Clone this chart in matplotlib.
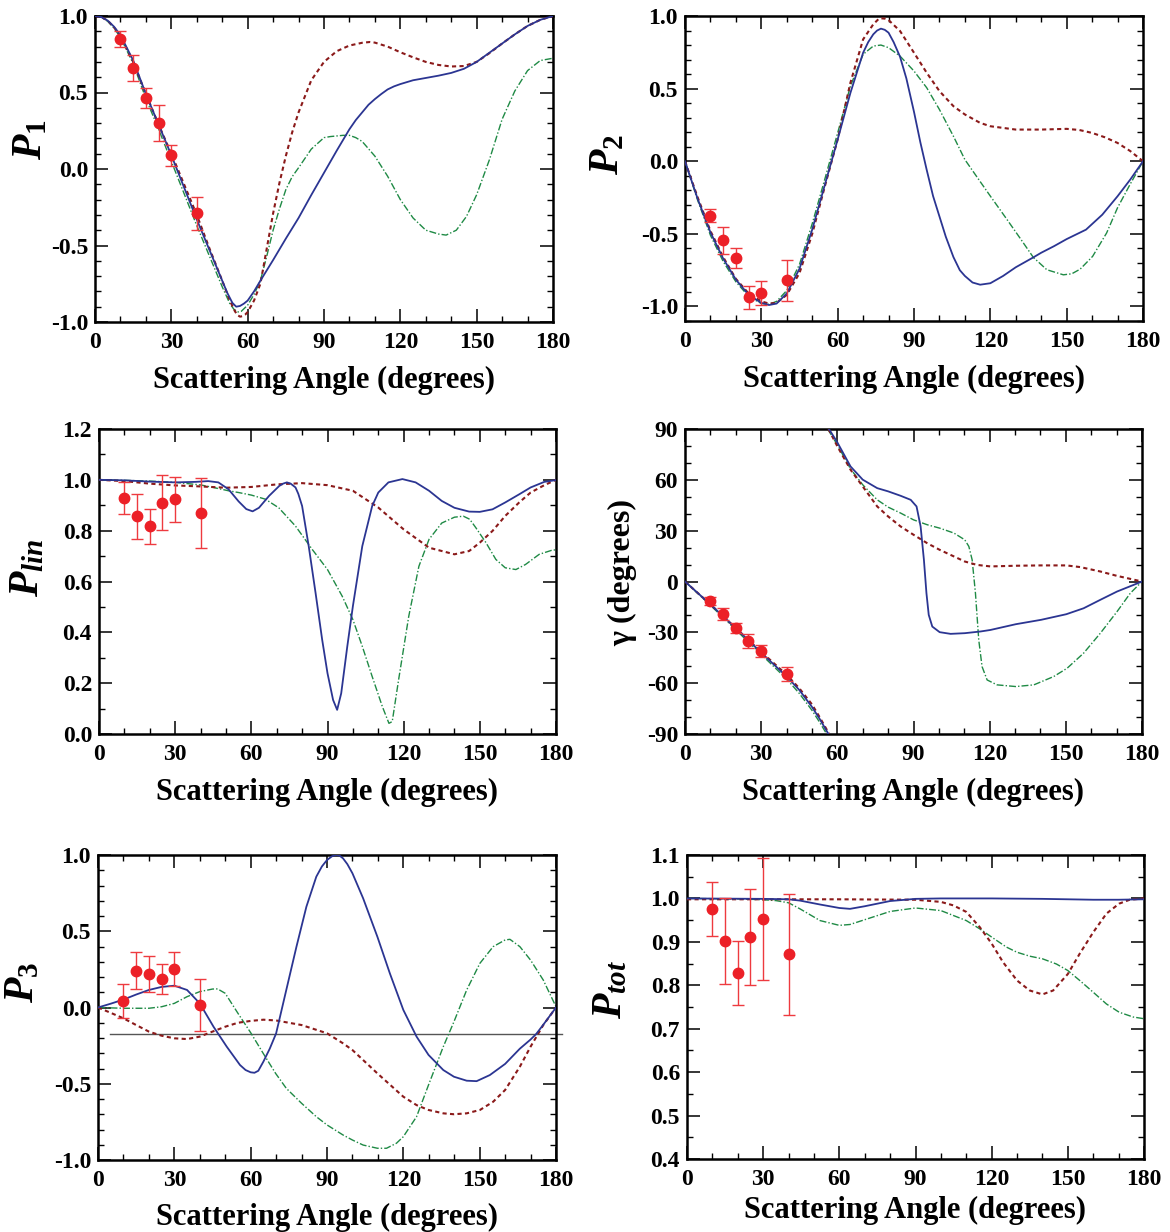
import matplotlib
matplotlib.use("Agg")
import matplotlib.pyplot as plt
from matplotlib.ticker import MultipleLocator, FormatStrFormatter

plt.rcParams.update({
    "font.family": ["Liberation Serif", "DejaVu Serif"],
    "font.weight": "bold",
    "axes.unicode_minus": False,
    "mathtext.fontset": "custom",
    "mathtext.rm": "Liberation Serif:bold",
    "mathtext.it": "Liberation Serif:italic:bold",
    "mathtext.bf": "Liberation Serif:bold",
})

# ---------------- measured points (common to all panels) ----------------
meas_angle = [10, 15, 20, 25, 30, 40]

p1_meas = [0.85, 0.66, 0.466, 0.298, 0.09, -0.29]
p1_err = [0.052, 0.085, 0.065, 0.118, 0.07, 0.11]
p2_meas = [-0.375, -0.545, -0.667, -0.938, -0.908, -0.82]
p2_err = [0.045, 0.095, 0.07, 0.08, 0.083, 0.14]
plin_meas = [0.928, 0.856, 0.817, 0.91, 0.924, 0.869]
plin_err = [0.062, 0.087, 0.069, 0.108, 0.088, 0.139]
gam_meas = [-11.4, -19.3, -27.6, -35.0, -41.0, -54.5]
gam_err = [2.5, 3.5, 3.0, 4.0, 3.5, 4.0]
p3_meas = [0.043, 0.242, 0.22, 0.185, 0.252, 0.019]
p3_err = [0.11, 0.12, 0.119, 0.098, 0.109, 0.171]
ptot_meas = [0.976, 0.902, 0.828, 0.911, 0.952, 0.871]
ptot_err = [0.062, 0.099, 0.073, 0.11, 0.14, 0.14]

# ---------------- model curves ----------------
# P1
p1_blue_x = [0, 2.5, 5, 7.5, 10, 15, 20, 25, 30, 35, 40, 45, 50, 52, 54, 55.5, 57, 58.5, 60, 62.5,
             65, 70, 75, 80, 85, 90, 95, 100, 102.5, 105, 107.5, 110, 112.5, 115, 117.5, 120, 125,
             130, 135, 140, 145, 150, 155, 160, 165, 170, 175, 180]
p1_blue_y = [1.0, 0.993, 0.97, 0.93, 0.875, 0.71, 0.49, 0.29, 0.09, -0.12, -0.33, -0.53, -0.73,
             -0.81, -0.875, -0.9, -0.895, -0.88, -0.86, -0.80, -0.73, -0.595, -0.455, -0.32,
             -0.17, -0.025, 0.12, 0.26, 0.32, 0.37, 0.42, 0.457, 0.49, 0.52, 0.54, 0.555, 0.58,
             0.595, 0.61, 0.628, 0.655, 0.70, 0.76, 0.82, 0.88, 0.935, 0.975, 1.0]
p1_red_x = [0, 2.5, 5, 7.5, 10, 15, 20, 25, 30, 35, 40, 45, 50, 53, 55, 56, 57, 58, 59, 60, 62.5,
            65, 67.5, 70, 72.5, 75, 77.5, 80, 85, 90, 95, 100, 105, 108, 110, 115, 120, 125, 130,
            135, 140, 145, 150, 155, 160, 165, 170, 175, 180]
p1_red_y = [1.0, 0.993, 0.97, 0.925, 0.87, 0.70, 0.49, 0.29, 0.10, -0.10, -0.30, -0.52, -0.73,
            -0.86, -0.93, -0.955, -0.965, -0.962, -0.952, -0.935, -0.86, -0.75, -0.52, -0.29,
            -0.09, 0.085, 0.24, 0.37, 0.58, 0.70, 0.77, 0.807, 0.825, 0.83, 0.826, 0.80, 0.763,
            0.73, 0.70, 0.68, 0.67, 0.673, 0.70, 0.757, 0.82, 0.88, 0.935, 0.975, 1.0]
p1_green_x = [0, 2.5, 5, 7.5, 10, 15, 20, 25, 30, 35, 40, 45, 50, 53, 54.5, 56, 57.5, 60, 62.5, 65,
              67.5, 70, 72.5, 75, 77.5, 80, 85, 90, 92.5, 97.5, 100, 102.5, 105, 110, 115, 120,
              125, 130, 135, 138, 142, 146, 150, 155, 160, 165, 170, 175, 180]
p1_green_y = [1.0, 0.992, 0.965, 0.92, 0.86, 0.69, 0.46, 0.26, 0.05, -0.16, -0.37, -0.57, -0.77,
              -0.88, -0.915, -0.935, -0.93, -0.89, -0.82, -0.73, -0.57, -0.40, -0.26, -0.135,
              -0.05, 0.008, 0.13, 0.205, 0.212, 0.22, 0.22, 0.205, 0.18, 0.084, -0.047, -0.20,
              -0.32, -0.40, -0.425, -0.432, -0.40, -0.31, -0.168, 0.06, 0.325, 0.51, 0.643, 0.709,
              0.724]

# P2
p2_blue_x = [0, 5, 10, 15, 20, 25, 30, 33, 36, 40, 45, 50, 55, 60, 65, 70, 72, 74, 75.5, 77, 78.5,
             80, 82, 84.5, 87, 90, 92.5, 95, 97.5, 100, 102.5, 105.5, 108, 110, 113, 116, 120, 125,
             130, 136.9, 140, 145, 150, 157.6, 164, 170, 175, 180]
p2_blue_y = [0.0, -0.26, -0.49, -0.67, -0.815, -0.92, -0.975, -0.99, -0.98, -0.91, -0.74, -0.47,
             -0.16, 0.15, 0.47, 0.747, 0.82, 0.874, 0.90, 0.913, 0.905, 0.885, 0.82, 0.72, 0.57,
             0.34, 0.13, -0.06, -0.24, -0.38, -0.52, -0.66, -0.75, -0.79, -0.835, -0.85, -0.84,
             -0.79, -0.73, -0.662, -0.63, -0.585, -0.536, -0.471, -0.368, -0.241, -0.126, 0.0]
p2_red_x = [0, 5, 10, 15, 20, 25, 30, 33, 36, 40, 45, 50, 55, 60, 65, 70, 74, 76, 77, 78.5, 80,
            84.5, 90, 95, 100, 105.5, 110, 116, 120, 130, 140, 150, 155, 160, 165, 170, 175, 180]
p2_red_y = [0.0, -0.25, -0.48, -0.66, -0.81, -0.91, -0.965, -0.98, -0.975, -0.92, -0.77, -0.50,
            -0.17, 0.15, 0.54, 0.839, 0.943, 0.978, 0.984, 0.982, 0.972, 0.897, 0.747, 0.609,
            0.483, 0.379, 0.322, 0.264, 0.241, 0.218, 0.218, 0.223, 0.215, 0.195, 0.165, 0.126,
            0.07, 0.0]
p2_green_x = [0, 5, 10, 15, 20, 25, 30, 33, 36, 40, 45, 50, 55, 60, 65, 70, 74, 77, 80, 84.5, 90,
              95, 100, 105.5, 110, 116, 120, 126.5, 131.7, 136.9, 142.2, 148.7, 152, 155.3, 160.2,
              165.7, 170, 174.9, 180]
p2_green_y = [0.0, -0.27, -0.51, -0.69, -0.83, -0.93, -0.98, -0.985, -0.965, -0.89, -0.71, -0.43,
              -0.12, 0.195, 0.517, 0.736, 0.793, 0.80, 0.782, 0.724, 0.621, 0.506, 0.356, 0.172,
              0.011, -0.14, -0.24, -0.40, -0.53, -0.662, -0.747, -0.782, -0.775, -0.743, -0.655,
              -0.494, -0.32, -0.16, 0.0]

# P_lin
plin_blue_x = [0, 10, 20, 30, 38, 43, 47, 51, 55, 58, 60.5, 63, 67, 71, 72.5, 74, 75.5, 77.4, 78.5,
               80, 82.6, 85.3, 87.9, 90, 92.2, 93.8, 95.4, 97.8, 100, 103.7, 107.6, 110, 114,
               119.5, 124.7, 130, 135, 140, 145.8, 150, 155, 160, 165.5, 170, 175.4, 180]
plin_blue_y = [1.0, 0.998, 0.993, 0.99, 0.992, 0.995, 0.99, 0.963, 0.915, 0.885, 0.876, 0.89,
               0.937, 0.976, 0.985, 0.99, 0.985, 0.97, 0.945, 0.897, 0.739, 0.555, 0.371, 0.239,
               0.134, 0.095, 0.16, 0.345, 0.503, 0.739, 0.897, 0.95, 0.99, 1.003, 0.99, 0.957,
               0.917, 0.89, 0.875, 0.874, 0.884, 0.911, 0.943, 0.97, 0.992, 0.999]
plin_red_x = [0, 10, 20, 30, 40, 50, 60, 70, 80, 90, 100, 110, 120, 130, 140, 145.8, 150, 155, 160,
              165.5, 170, 175.4, 180]
plin_red_y = [1.0, 0.995, 0.985, 0.978, 0.974, 0.969, 0.972, 0.982, 0.987, 0.979, 0.957, 0.891,
              0.805, 0.733, 0.707, 0.72, 0.753, 0.799, 0.858, 0.911, 0.95, 0.979, 1.0]
plin_green_x = [0, 10, 20, 30, 40, 45, 51, 55, 60, 65.5, 70.8, 77.4, 84, 90, 95.8, 100, 103.7, 107.6,
                111.6, 114.2, 115.5, 118, 122, 126, 130, 135, 140, 143.5, 146, 148.4, 152.4, 156.3,
                160, 164.2, 168, 173.4, 178.7, 180]
plin_green_y = [1.0, 0.998, 0.995, 0.99, 0.98, 0.97, 0.957, 0.95, 0.94, 0.924, 0.89, 0.818, 0.726,
                0.647, 0.542, 0.45, 0.345, 0.226, 0.108, 0.042, 0.049, 0.213, 0.463, 0.66, 0.766,
                0.83, 0.853, 0.857, 0.845, 0.812, 0.753, 0.687, 0.654, 0.647, 0.667, 0.707, 0.724,
                0.724]

# gamma: branch below the wrap-around and branch after it
gam_blue_lo_x = [0, 10, 20, 30, 40, 45, 50, 53, 56.5]
gam_blue_lo_y = [0, -13.5, -27.5, -42, -56, -64, -74, -81, -90]
gam_red_lo_x = [0, 10, 20, 30, 40, 45, 50, 53, 56.8]
gam_red_lo_y = [0, -13.5, -27.5, -41.5, -55, -63, -72.5, -80, -90]
gam_green_lo_x = [0, 10, 20, 30, 40, 45, 50, 53, 55.8]
gam_green_lo_y = [0, -14, -28.5, -43, -57.5, -66, -76, -83, -90]

gam_blue_hi_x = [56.7, 60, 65.2, 70, 75.7, 80, 84.9, 88.9, 91.2, 92.8, 94.1, 95.1, 96, 97.4, 100.3,
                 104.6, 110.2, 116.4, 120.3, 130.3, 140.3, 150.2, 157, 163.6, 170.2, 176.7, 180]
gam_blue_hi_y = [90, 82.1, 67.9, 60.1, 55.1, 53.2, 50.6, 48.2, 44.3, 32.5, 12.8, -6.9, -19.7, -26.6,
                 -29.9, -30.9, -30.5, -29.5, -28.6, -25.2, -22.6, -19.3, -15.8, -10.8, -5.9, -2.0, 0]
gam_red_hi_x = [56.5, 60, 65.2, 70, 75.7, 80, 84.9, 90, 95.4, 100.3, 105.9, 110.2, 115, 120.3, 130.3,
                140.3, 150.2, 155.7, 163.6, 170.2, 180]
gam_red_hi_y = [90, 79.8, 66, 56.1, 44.3, 38.4, 32.5, 27.6, 22.6, 18.7, 14.8, 11.8, 9.8, 8.9, 9.3,
                9.5, 9.5, 8.5, 5.9, 3.3, 0]
gam_green_hi_x = [56.2, 60, 65.2, 70, 75.7, 80, 84.9, 90, 95.4, 100.3, 105.9, 110.2, 111.8, 113.1,
                  114.4, 115.7, 117, 119, 122.9, 130.3, 137.4, 145.2, 150.5, 157, 163.6, 170.2,
                  175.4, 180]
gam_green_hi_y = [90, 80.7, 66.4, 57.1, 48.2, 43.9, 40.4, 36.4, 33.5, 31.5, 28.6, 24.6, 20.7, 12.8,
                  -6.9, -34.5, -50.2, -58.1, -61, -62, -61, -56.1, -51.2, -42.3, -30.5, -17.7,
                  -6.9, 0]

# P3
p3_blue_x = [0, 5, 10, 15, 20, 25, 30, 35, 40, 45.4, 50.6, 55.8, 58, 60, 61.5, 63, 65, 67.5, 70, 74,
             78, 81.9, 85.8, 88, 90, 92, 93.7, 95, 96.3, 98, 100, 104.2, 109.8, 114.7, 120, 125.2,
             129.9, 135.7, 139.9, 144.9, 148.8, 154, 160, 165.8, 170, 172.2, 175, 180]
p3_blue_y = [0.0, 0.025, 0.052, 0.085, 0.115, 0.135, 0.143, 0.115, 0.027, -0.126, -0.257, -0.377,
             -0.41, -0.425, -0.428, -0.415, -0.355, -0.27, -0.17, 0.115, 0.399, 0.661, 0.858,
             0.925, 0.967, 0.992, 1.0, 0.995, 0.978, 0.94, 0.88, 0.716, 0.464, 0.224, -0.016,
             -0.191, -0.311, -0.41, -0.454, -0.48, -0.483, -0.443, -0.37, -0.27, -0.21, -0.174,
             -0.113, 0.0]
p3_red_x = [0, 5, 10, 15, 20, 25, 30, 35, 40, 45, 50, 55, 60, 65, 70, 80, 90, 96.3, 100, 109.8, 120,
            125.2, 129.9, 135.7, 139.9, 144.9, 150.1, 155.3, 160, 165.8, 170, 175, 180]
p3_red_y = [0.0, -0.035, -0.071, -0.115, -0.158, -0.185, -0.202, -0.207, -0.191, -0.158, -0.126,
            -0.10, -0.088, -0.08, -0.085, -0.115, -0.169, -0.235, -0.279, -0.432, -0.585, -0.64,
            -0.672, -0.694, -0.70, -0.694, -0.672, -0.618, -0.541, -0.388, -0.257, -0.115, 0.0]
p3_green_x = [0, 10, 20, 25, 30, 35, 40, 45, 47, 50, 55, 60, 64.9, 69.8, 74, 80, 85.8, 90, 96.3, 100,
              104.2, 109.8, 113.4, 117.3, 120, 125.2, 129.9, 135.7, 139.9, 144.9, 150.1, 155.3,
              160, 161.9, 165.8, 170, 175, 180]
p3_green_y = [0.0, -0.005, -0.005, 0.005, 0.027, 0.071, 0.104, 0.121, 0.122, 0.093, -0.038, -0.165,
              -0.30, -0.432, -0.53, -0.628, -0.716, -0.77, -0.836, -0.869, -0.902, -0.923, -0.923,
              -0.89, -0.847, -0.716, -0.508, -0.257, -0.093, 0.115, 0.29, 0.399, 0.443, 0.447,
              0.399, 0.311, 0.18, 0.005]
p3_ref_level = -0.174
p3_ref_span = [4.7, 182.3]

# P_tot
ptot_blue_x = [0, 30, 40, 44.5, 52.4, 60, 64.2, 70, 80, 90, 100, 120, 140, 160, 170, 180]
ptot_blue_y = [1.0, 0.999, 0.998, 0.995, 0.986, 0.978, 0.976, 0.982, 0.994, 0.999, 1.0, 1.0, 0.999,
               0.997, 0.997, 0.998]
ptot_red_x = [0, 30, 60, 90, 100, 104.9, 110, 115.3, 120, 124.5, 130, 135, 140, 144.2, 150, 154.7,
              160, 165.2, 170.2, 174.4, 180]
ptot_red_y = [0.998, 0.998, 0.998, 0.997, 0.992, 0.984, 0.969, 0.934, 0.896, 0.853, 0.811, 0.788,
              0.779, 0.788, 0.826, 0.873, 0.922, 0.965, 0.988, 0.997, 1.0]
ptot_green_x = [0, 20, 30, 35, 40, 44.5, 52.4, 60, 64.2, 70, 80, 90, 100, 110, 115.3, 120, 125.8,
                130, 135, 140, 145.5, 150, 154.7, 160, 165.2, 170.2, 175.7, 180]
ptot_green_y = [1.0, 0.999, 0.997, 0.995, 0.99, 0.976, 0.949, 0.938, 0.94, 0.951, 0.97, 0.978,
                0.972, 0.949, 0.93, 0.911, 0.888, 0.876, 0.867, 0.861, 0.849, 0.834, 0.811, 0.784,
                0.757, 0.738, 0.727, 0.723]

x_ticks = [0, 30, 60, 90, 120, 150, 180]

# ---------------- styling ----------------
BLUE = "#2b3592"
DKRED = "#8b1a1a"
GREEN = "#1f8a45"
DATARED = "#ec2027"
ERRRED = "#ee3a3f"
GREEN_LS = (0, (5, 1.5, 1, 1.5))
RED_LS = (0, (2, 1.6))

W, H = 1170, 1232
fig = plt.figure(figsize=(W / 100, H / 100), dpi=100)


def frame(left, right, top, bottom):
    return [left / W, 1 - bottom / H, (right - left) / W, (bottom - top) / H]


def style_axes(ax, ylim, ymaj, ymin_):
    ax.set_xlim(0, 180)
    ax.set_ylim(*ylim)
    ax.set_xticks(x_ticks)
    ax.xaxis.set_minor_locator(MultipleLocator(10))
    ax.yaxis.set_major_locator(MultipleLocator(ymaj))
    ax.yaxis.set_minor_locator(MultipleLocator(ymin_))
    ax.tick_params(which="both", direction="in", top=True, right=True)
    ax.tick_params(which="major", length=9.5, width=1.1, labelsize=17)
    ax.tick_params(axis="x", which="major", pad=7)
    ax.tick_params(axis="y", which="major", pad=5)
    ax.tick_params(which="minor", length=4, width=1.0)
    for s in ax.spines.values():
        s.set_linewidth(1.8)
    for lab in ax.get_xticklabels() + ax.get_yticklabels():
        lab.set_fontweight("bold")


def draw_models(ax, bx, by, rx, ry, gx, gy):
    ax.plot(gx, gy, color=GREEN, lw=1.0, linestyle=GREEN_LS, zorder=2)
    ax.plot(rx, ry, color=DKRED, lw=1.5, linestyle=RED_LS, zorder=3)
    ax.plot(bx, by, color=BLUE, lw=1.3, linestyle="-", zorder=4)


def draw_meas(ax, y, e):
    ax.errorbar(meas_angle, y, yerr=e, fmt="o", color=DATARED, ms=7.5, mec=DATARED,
                ecolor=ERRRED, elinewidth=1.0, capsize=4, capthick=1.0, zorder=6)


def labels(ax, ylab, ysize, box, ylab_dx, ylab_cy, xlab_dy):
    left, right, top, bottom = box
    wpx, hpx = right - left, bottom - top
    ax.set_xlabel("Scattering Angle (degrees)", fontsize=22, fontweight="bold")
    ax.xaxis.set_label_coords(0.5, -xlab_dy / hpx)
    ax.set_ylabel(ylab, fontsize=ysize, fontweight="bold")
    ax.yaxis.set_label_coords(-ylab_dx / wpx, (bottom - ylab_cy) / hpx)


# P1
box = (95, 553, 16, 322)
ax = fig.add_axes(frame(*box))
style_axes(ax, (-1.0, 1.0), 0.5, 0.1)
ax.yaxis.set_major_formatter(FormatStrFormatter("%.1f"))
draw_models(ax, p1_blue_x, p1_blue_y, p1_red_x, p1_red_y, p1_green_x, p1_green_y)
draw_meas(ax, p1_meas, p1_err)
labels(ax, r"$\mathit{P_1}$", 30, box, 45, 140, 44)

# P2
box = (685, 1143, 16, 321)
ax = fig.add_axes(frame(*box))
style_axes(ax, (-1.1, 1.0), 0.5, 0.1)
ax.yaxis.set_major_formatter(FormatStrFormatter("%.1f"))
draw_models(ax, p2_blue_x, p2_blue_y, p2_red_x, p2_red_y, p2_green_x, p2_green_y)
draw_meas(ax, p2_meas, p2_err)
labels(ax, r"$\mathit{P}_{\mathrm{2}}$", 30, box, 58, 155, 44)

# P_lin
box = (99, 556, 429, 734)
ax = fig.add_axes(frame(*box))
style_axes(ax, (0.0, 1.2), 0.2, 0.1)
ax.yaxis.set_major_formatter(FormatStrFormatter("%.1f"))
draw_models(ax, plin_blue_x, plin_blue_y, plin_red_x, plin_red_y, plin_green_x, plin_green_y)
draw_meas(ax, plin_meas, plin_err)
labels(ax, r"$\mathit{P_{lin}}$", 30, box, 52, 568, 44)

# gamma
box = (685, 1142, 429, 734)
ax = fig.add_axes(frame(*box))
style_axes(ax, (-90, 90), 30, 10)
ax.plot(gam_green_lo_x, gam_green_lo_y, color=GREEN, lw=1.0, linestyle=GREEN_LS, zorder=2)
draw_models(ax, gam_blue_hi_x, gam_blue_hi_y, gam_red_hi_x, gam_red_hi_y,
            gam_green_hi_x, gam_green_hi_y)
ax.plot(gam_red_lo_x, gam_red_lo_y, color=DKRED, lw=1.5, linestyle=RED_LS, zorder=3)
ax.plot(gam_blue_lo_x, gam_blue_lo_y, color=BLUE, lw=1.3, zorder=4)
draw_meas(ax, gam_meas, gam_err)
labels(ax, "\u03b3 (degrees)", 23, box, 48, 573, 44)

# P3
box = (98, 556, 855, 1160)
ax = fig.add_axes(frame(*box))
style_axes(ax, (-1.0, 1.0), 0.5, 0.1)
ax.yaxis.set_major_formatter(FormatStrFormatter("%.1f"))
ax.plot(p3_ref_span, [p3_ref_level, p3_ref_level], color="#555555", lw=1.0, clip_on=False, zorder=1)
draw_models(ax, p3_blue_x, p3_blue_y, p3_red_x, p3_red_y, p3_green_x, p3_green_y)
draw_meas(ax, p3_meas, p3_err)
labels(ax, r"$\mathit{P}_{\mathrm{3}}$", 30, box, 56, 983, 43)

# P_tot
box = (687, 1144, 855, 1159)
ax = fig.add_axes(frame(*box))
style_axes(ax, (0.4, 1.1), 0.1, 0.05)
ax.yaxis.set_major_formatter(FormatStrFormatter("%.1f"))
draw_models(ax, ptot_blue_x, ptot_blue_y, ptot_red_x, ptot_red_y, ptot_green_x, ptot_green_y)
draw_meas(ax, ptot_meas, ptot_err)
labels(ax, r"$\mathit{P_{tot}}$", 30, box, 57, 990, 37)

fig.savefig("out.png", dpi=100)
